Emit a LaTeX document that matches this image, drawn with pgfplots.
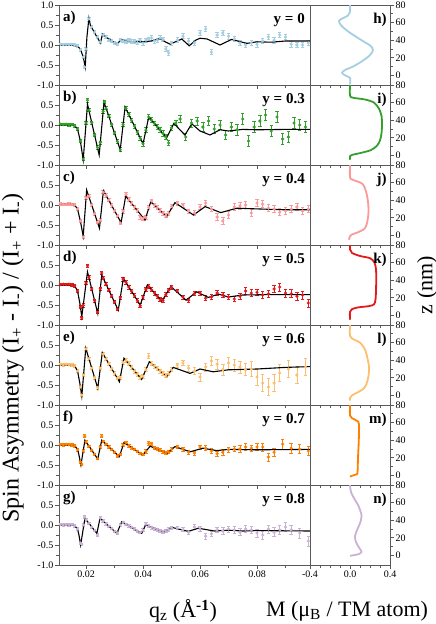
\documentclass[border=0pt]{standalone}
\usepackage{fontspec}
\setmainfont{Liberation Serif}
\usepackage{pgfplots}
\usepackage{pgfplotstable}
\pgfplotsset{compat=1.18}

\definecolor{cA}{HTML}{A6CEE3}
\definecolor{cB}{HTML}{33A02C}
\definecolor{cC}{HTML}{FB9A99}
\definecolor{cD}{HTML}{E31A1C}
\definecolor{cE}{HTML}{FDBF6F}
\definecolor{cF}{HTML}{FF7F00}
\definecolor{cG}{HTML}{CAB2D6}
\definecolor{frm}{gray}{0.35}

% ---------- spin asymmetry: data (q, SA, err) and fits (q, SA)
\pgfplotstableread{
0.011 0.02 0.03
0.012 0.01 0.03
0.013 0.02 0.03
0.014 0.01 0.03
0.015 0.02 0.03
0.016 0.00 0.03
0.017 -0.02 0.03
0.018 -0.12 0.03
0.019 -0.30 0.03
0.0195 -0.55 0.04
0.020 -0.10 0.04
0.021 0.65 0.05
0.022 0.45 0.04
0.023 0.32 0.04
0.024 0.20 0.04
0.025 0.08 0.04
0.026 0.25 0.04
0.027 0.20 0.04
0.028 0.12 0.04
0.029 0.10 0.04
0.030 0.05 0.04
0.031 0.03 0.04
0.032 0.13 0.04
0.033 0.10 0.04
0.034 0.08 0.05
0.035 0.11 0.05
0.036 0.08 0.05
0.037 0.10 0.05
0.038 0.06 0.05
0.039 0.12 0.05
0.040 0.05 0.05
0.041 0.12 0.05
0.042 0.15 0.05
0.043 0.18 0.06
0.044 0.10 0.05
0.045 0.12 0.05
0.046 0.18 0.05
0.047 0.14 0.05
0.048 -0.10 0.06
0.049 -0.20 0.06
0.050 0.05 0.05
0.052 0.12 0.06
0.054 0.22 0.06
0.056 0.10 0.06
0.058 0.05 0.07
0.060 0.30 0.07
0.062 0.40 0.07
0.064 -0.18 0.06
0.066 0.25 0.07
0.068 0.30 0.07
0.070 0.22 0.07
0.072 0.15 0.07
0.074 0.05 0.07
0.076 0.00 0.07
0.078 0.05 0.07
0.080 0.02 0.07
0.082 0.10 0.07
0.084 0.20 0.07
0.086 0.12 0.07
0.088 0.25 0.07
0.090 0.20 0.07
0.092 0.02 0.07
0.094 0.00 0.07
0.096 0.00 0.07
0.098 0.05 0.07
}\dA
\pgfplotstableread{
0.0105 0.00
0.015 0.00
0.017 -0.03
0.018 -0.10
0.019 -0.30
0.0197 -0.55
0.0203 0.20
0.021 0.67
0.0215 0.50
0.023 0.30
0.0245 0.12
0.025 0.05
0.0258 0.27
0.027 0.20
0.029 0.10
0.031 0.02
0.0322 0.14
0.034 0.10
0.037 0.08
0.040 0.08
0.043 0.10
0.046 0.16
0.048 0.07
0.0495 0.02
0.052 0.10
0.0536 0.15
0.0562 -0.02
0.0585 0.12
0.060 0.17
0.0625 0.15
0.064 0.10
0.067 0.00
0.0711 0.14
0.0764 0.04
0.080 0.08
0.085 0.07
0.090 0.10
0.0986 0.10
}\fA

\pgfplotstableread{
0.011 0.02 0.03
0.012 0.01 0.03
0.013 0.02 0.03
0.014 0.00 0.03
0.015 0.01 0.03
0.016 -0.02 0.03
0.017 -0.10 0.03
0.018 -0.40 0.03
0.019 -0.85 0.04
0.020 0.05 0.04
0.0205 0.62 0.05
0.021 0.37 0.04
0.022 0.06 0.04
0.023 -0.25 0.04
0.024 -0.56 0.04
0.025 -0.44 0.04
0.026 0.34 0.04
0.0265 0.58 0.04
0.027 0.42 0.04
0.028 0.22 0.04
0.029 0.01 0.04
0.030 -0.20 0.04
0.031 -0.41 0.04
0.032 -0.62 0.05
0.033 0.01 0.05
0.034 0.41 0.05
0.035 0.26 0.05
0.036 0.11 0.05
0.037 -0.03 0.05
0.038 -0.18 0.05
0.039 -0.33 0.05
0.040 -0.47 0.06
0.041 -0.13 0.06
0.042 0.20 0.06
0.043 0.12 0.06
0.044 0.04 0.06
0.045 -0.05 0.06
0.046 -0.13 0.06
0.047 -0.21 0.07
0.048 -0.30 0.07
0.049 -0.45 0.07
0.050 -0.07 0.07
0.0515 0.05 0.06
0.053 0.15 0.08
0.055 -0.30 0.08
0.057 0.05 0.10
0.059 0.10 0.10
0.061 -0.05 0.12
0.063 0.10 0.12
0.065 -0.10 0.12
0.067 0.00 0.12
0.069 -0.25 0.12
0.071 -0.05 0.12
0.073 -0.12 0.13
0.075 0.15 0.13
0.077 -0.40 0.13
0.079 -0.05 0.13
0.081 0.10 0.13
0.083 0.25 0.13
0.085 -0.15 0.13
0.087 0.20 0.13
0.089 -0.35 0.13
0.091 -0.30 0.13
0.093 0.05 0.13
0.095 0.00 0.13
0.097 -0.05 0.13
}\dB
\pgfplotstableread{
0.0105 0.00
0.015 0.00
0.016 -0.02
0.017 -0.10
0.018 -0.40
0.019 -0.875
0.0205 0.52
0.0246 -0.75
0.0263 0.57
0.032 -0.62
0.0337 0.45
0.0400 -0.47
0.0420 0.20
0.0483 -0.32
0.0508 0.04
0.0547 -0.25
0.0571 0.03
0.060 -0.15
0.0635 -0.25
0.067 -0.12
0.070 -0.15
0.075 -0.11
0.080 -0.12
0.090 -0.11
0.0986 -0.11
}\fB

\pgfplotstableread{
0.011 0.03 0.03
0.012 0.02 0.03
0.013 0.02 0.03
0.014 0.03 0.03
0.015 0.01 0.03
0.016 0.00 0.03
0.017 -0.10 0.03
0.018 -0.40 0.03
0.019 -0.80 0.04
0.020 0.18 0.04
0.021 0.22 0.04
0.022 0.00 0.04
0.023 -0.22 0.04
0.024 -0.43 0.04
0.025 -0.38 0.04
0.026 0.32 0.04
0.027 0.24 0.04
0.028 0.12 0.04
0.029 -0.01 0.04
0.030 -0.14 0.04
0.031 -0.27 0.04
0.032 -0.45 0.04
0.033 -0.15 0.05
0.034 0.26 0.05
0.035 0.13 0.05
0.036 0.04 0.05
0.037 -0.05 0.05
0.038 -0.14 0.05
0.039 -0.30 0.05
0.040 -0.33 0.05
0.041 -0.31 0.05
0.042 -0.06 0.05
0.043 0.10 0.05
0.044 0.00 0.05
0.045 -0.07 0.05
0.046 -0.14 0.05
0.047 -0.20 0.05
0.048 -0.27 0.05
0.049 -0.21 0.05
0.050 -0.04 0.05
0.052 0.05 0.05
0.054 0.00 0.05
0.056 -0.15 0.05
0.058 -0.20 0.06
0.060 -0.05 0.06
0.062 0.05 0.06
0.064 -0.10 0.07
0.066 -0.30 0.08
0.068 -0.40 0.08
0.070 -0.25 0.08
0.072 -0.05 0.08
0.074 -0.02 0.09
0.076 0.00 0.09
0.078 -0.20 0.09
0.080 0.05 0.09
0.082 0.02 0.09
0.084 -0.08 0.09
0.086 -0.10 0.09
0.088 -0.18 0.09
0.090 -0.15 0.09
0.092 -0.10 0.09
0.094 -0.05 0.09
0.096 -0.15 0.09
0.098 -0.10 0.09
}\dC
\pgfplotstableread{
0.0105 0.02
0.015 0.02
0.016 0.00
0.017 -0.10
0.018 -0.40
0.019 -0.78
0.0202 0.375
0.0247 -0.58
0.0261 0.36
0.0323 -0.44
0.0339 0.22
0.0407 -0.375
0.0427 0.08
0.0483 -0.29
0.0512 0.06
0.0577 -0.25
0.0618 -0.04
0.0673 -0.19
0.0729 -0.08
0.081 -0.10
0.090 -0.12
0.0986 -0.12
}\fC

\pgfplotstableread{
0.011 0.01 0.03
0.012 0.02 0.03
0.013 0.01 0.03
0.014 0.02 0.03
0.015 0.00 0.03
0.016 -0.02 0.03
0.017 -0.15 0.03
0.018 -0.55 0.03
0.0185 -0.82 0.04
0.019 -0.51 0.04
0.020 0.05 0.04
0.0205 0.48 0.04
0.021 0.19 0.04
0.022 -0.10 0.04
0.023 -0.39 0.04
0.024 -0.68 0.04
0.025 -0.09 0.04
0.0255 0.30 0.04
0.026 0.17 0.04
0.027 0.02 0.04
0.028 -0.13 0.04
0.029 -0.28 0.04
0.030 -0.43 0.04
0.031 -0.60 0.04
0.032 -0.32 0.04
0.033 0.15 0.05
0.034 0.07 0.05
0.035 -0.05 0.05
0.036 -0.16 0.05
0.037 -0.27 0.05
0.038 -0.39 0.05
0.039 -0.52 0.05
0.040 -0.30 0.05
0.041 -0.10 0.05
0.042 -0.04 0.05
0.043 -0.12 0.05
0.044 -0.20 0.05
0.045 -0.28 0.05
0.046 -0.37 0.05
0.047 -0.38 0.05
0.048 -0.24 0.05
0.049 -0.13 0.05
0.050 -0.06 0.05
0.052 -0.15 0.04
0.054 -0.30 0.05
0.056 -0.38 0.05
0.058 -0.22 0.05
0.060 -0.20 0.05
0.062 -0.33 0.06
0.064 -0.30 0.06
0.066 -0.20 0.07
0.068 -0.25 0.07
0.070 -0.30 0.07
0.072 -0.35 0.07
0.074 -0.28 0.08
0.076 -0.15 0.08
0.078 -0.20 0.08
0.080 -0.18 0.08
0.082 -0.25 0.08
0.084 -0.22 0.09
0.086 -0.10 0.09
0.088 -0.05 0.10
0.090 -0.20 0.10
0.092 -0.22 0.10
0.094 -0.28 0.10
0.096 -0.25 0.10
0.098 -0.45 0.10
}\dD
\pgfplotstableread{
0.0105 0.00
0.015 0.00
0.016 -0.02
0.017 -0.15
0.0178 -0.45
0.0185 -0.79
0.0205 0.33
0.0241 -0.71
0.0255 0.25
0.0313 -0.63
0.0331 0.17
0.0390 -0.50
0.0415 0.00
0.0466 -0.40
0.0498 -0.04
0.0551 -0.38
0.0588 -0.17
0.0629 -0.31
0.0665 -0.23
0.070 -0.30
0.075 -0.25
0.085 -0.24
0.0986 -0.24
}\fD

\pgfplotstableread{
0.011 0.02 0.03
0.012 0.00 0.03
0.013 0.02 0.03
0.014 0.01 0.03
0.015 0.00 0.03
0.016 -0.02 0.03
0.017 -0.15 0.03
0.018 -0.55 0.03
0.0185 -0.75 0.04
0.019 -0.25 0.04
0.020 0.40 0.04
0.021 0.16 0.04
0.022 -0.08 0.04
0.023 -0.32 0.04
0.024 -0.56 0.04
0.025 -0.08 0.04
0.026 0.27 0.04
0.027 0.15 0.04
0.028 0.03 0.04
0.029 -0.09 0.04
0.030 -0.21 0.04
0.031 -0.33 0.04
0.032 -0.31 0.04
0.033 0.06 0.05
0.034 0.11 0.05
0.035 0.03 0.05
0.036 -0.06 0.05
0.037 -0.15 0.05
0.038 -0.23 0.05
0.039 -0.32 0.05
0.040 -0.28 0.05
0.041 -0.12 0.05
0.042 0.22 0.06
0.043 0.03 0.05
0.044 -0.03 0.05
0.045 -0.09 0.05
0.046 -0.15 0.05
0.047 -0.21 0.05
0.048 -0.27 0.05
0.049 -0.22 0.05
0.050 -0.12 0.05
0.052 0.00 0.05
0.054 0.05 0.06
0.056 -0.08 0.07
0.058 -0.15 0.08
0.060 -0.30 0.10
0.062 -0.05 0.10
0.064 0.10 0.12
0.066 0.02 0.12
0.068 -0.12 0.13
0.070 0.05 0.15
0.072 0.00 0.15
0.074 -0.05 0.15
0.076 -0.12 0.15
0.078 -0.10 0.18
0.080 -0.30 0.20
0.082 -0.45 0.22
0.084 -0.55 0.22
0.086 -0.45 0.22
0.088 -0.20 0.22
0.091 -0.10 0.22
0.094 -0.25 0.22
0.097 -0.05 0.22
}\dE
\pgfplotstableread{
0.0105 0.00
0.015 0.00
0.016 -0.02
0.017 -0.15
0.0178 -0.45
0.0185 -0.78
0.0199 0.42
0.0241 -0.58
0.0257 0.31
0.0317 -0.42
0.0333 0.17
0.0395 -0.36
0.0422 0.08
0.0483 -0.29
0.0506 -0.06
0.0565 -0.21
0.060 -0.10
0.0646 -0.17
0.070 -0.12
0.080 -0.10
0.090 -0.06
0.0986 -0.04
}\fE

\pgfplotstableread{
0.011 0.01 0.03
0.012 0.00 0.03
0.013 0.02 0.03
0.014 0.01 0.03
0.015 0.00 0.03
0.016 -0.02 0.03
0.017 -0.12 0.03
0.018 -0.42 0.03
0.0185 -0.48 0.03
0.019 -0.15 0.03
0.0195 0.22 0.04
0.020 0.08 0.03
0.021 -0.03 0.03
0.022 -0.13 0.03
0.023 -0.23 0.03
0.024 -0.34 0.03
0.025 -0.05 0.03
0.0255 0.22 0.04
0.026 0.09 0.03
0.027 0.02 0.03
0.028 -0.05 0.03
0.029 -0.11 0.03
0.030 -0.18 0.03
0.031 -0.27 0.03
0.032 -0.23 0.03
0.033 0.00 0.03
0.034 0.06 0.03
0.035 -0.02 0.03
0.036 -0.07 0.03
0.037 -0.11 0.03
0.038 -0.16 0.03
0.039 -0.21 0.03
0.040 -0.24 0.03
0.041 -0.16 0.04
0.042 0.04 0.04
0.043 0.03 0.04
0.044 -0.07 0.04
0.045 -0.10 0.04
0.046 -0.13 0.04
0.047 -0.17 0.04
0.048 -0.20 0.04
0.049 -0.18 0.04
0.050 -0.11 0.04
0.052 -0.05 0.04
0.054 -0.10 0.05
0.056 -0.18 0.05
0.058 -0.20 0.05
0.060 -0.05 0.05
0.062 -0.08 0.06
0.064 -0.15 0.06
0.066 -0.22 0.06
0.068 -0.18 0.07
0.070 -0.12 0.07
0.072 -0.10 0.07
0.074 -0.10 0.08
0.076 -0.05 0.08
0.078 -0.08 0.08
0.080 -0.05 0.09
0.082 -0.05 0.10
0.084 -0.30 0.10
0.086 -0.18 0.10
0.089 0.02 0.12
0.092 -0.08 0.12
0.095 -0.10 0.12
0.098 -0.15 0.12
}\dF
\pgfplotstableread{
0.0105 0.00
0.015 0.00
0.016 -0.02
0.017 -0.10
0.0175 -0.25
0.0182 -0.50
0.0196 0.12
0.0241 -0.35
0.0255 0.12
0.0317 -0.29
0.0333 0.06
0.0399 -0.25
0.0425 -0.03
0.0485 -0.21
0.0512 -0.04
0.0565 -0.17
0.061 -0.08
0.0659 -0.14
0.070 -0.11
0.080 -0.12
0.0986 -0.11
}\fF

\pgfplotstableread{
0.011 0.01 0.03
0.012 0.00 0.03
0.013 0.01 0.03
0.014 0.00 0.03
0.015 0.01 0.03
0.016 -0.02 0.03
0.017 -0.10 0.03
0.018 -0.45 0.03
0.0185 -0.48 0.03
0.019 0.00 0.03
0.0195 0.20 0.03
0.020 0.13 0.03
0.021 0.04 0.03
0.022 -0.05 0.03
0.023 -0.14 0.03
0.024 -0.25 0.04
0.025 0.17 0.04
0.026 0.10 0.03
0.027 0.03 0.03
0.028 -0.03 0.03
0.029 -0.09 0.03
0.030 -0.16 0.03
0.031 -0.20 0.03
0.032 0.00 0.03
0.033 0.07 0.03
0.034 0.02 0.03
0.035 -0.02 0.03
0.036 -0.06 0.03
0.037 -0.10 0.03
0.038 -0.15 0.03
0.039 -0.19 0.03
0.040 -0.13 0.04
0.041 0.02 0.04
0.042 -0.03 0.04
0.043 -0.06 0.04
0.044 -0.09 0.04
0.045 -0.12 0.04
0.046 -0.15 0.04
0.047 -0.18 0.04
0.048 -0.15 0.04
0.049 -0.11 0.04
0.050 -0.07 0.04
0.052 -0.08 0.04
0.054 -0.12 0.05
0.056 -0.18 0.05
0.058 -0.05 0.06
0.060 -0.10 0.06
0.062 -0.28 0.07
0.064 -0.22 0.07
0.066 -0.12 0.07
0.068 -0.15 0.08
0.070 -0.10 0.08
0.072 -0.12 0.08
0.074 -0.18 0.09
0.076 -0.10 0.09
0.078 -0.12 0.09
0.080 -0.20 0.10
0.082 -0.25 0.10
0.084 -0.10 0.10
0.086 -0.18 0.11
0.088 -0.12 0.11
0.090 -0.05 0.12
0.092 -0.12 0.12
0.095 -0.20 0.12
0.098 -0.40 0.12
}\dG
\pgfplotstableread{
0.0105 0.00
0.015 0.00
0.016 -0.02
0.017 -0.10
0.0175 -0.25
0.0181 -0.50
0.0196 0.17
0.0238 -0.21
0.0249 0.17
0.0308 -0.21
0.0325 0.08
0.0395 -0.21
0.0409 0.00
0.0471 -0.18
0.0501 -0.06
0.0559 -0.16
0.0594 -0.08
0.065 -0.15
0.070 -0.13
0.075 -0.15
0.080 -0.14
0.0986 -0.15
}\fG

% ---------- magnetisation profiles (M, z)
\pgfplotstableread{
0.00 80
0.00 72
-0.02 68
-0.07 65
-0.11 62
-0.09 57
-0.02 50
0.10 41
0.20 34
0.23 29
0.20 23
0.12 16
0.03 10
-0.05 6
-0.08 3
-0.05 0
0.00 -3
0.00 -10
}\pA
\pgfplotstableread{
0.00 80
0.00 68
0.03 65.5
0.15 63.5
0.24 60
0.29 53
0.315 45
0.32 35
0.315 25
0.30 17
0.27 11
0.21 6
0.10 2.5
0.02 0.5
0.00 -1
0.00 -5
}\pB
\pgfplotstableread{
0.00 80
0.00 66
0.02 63.5
0.08 61
0.13 58
0.16 50
0.178 40
0.185 30
0.18 20
0.165 12
0.14 7
0.08 3.5
0.02 1
0.00 -1
-0.01 -5
}\pC
\pgfplotstableread{
0.00 80
0.00 75
0.02 71
0.10 67.5
0.20 65
0.245 60
0.26 52
0.262 40
0.26 28
0.255 18
0.24 12.5
0.19 10.5
0.08 9
0.02 7
0.00 4
0.00 -5
}\pD
\pgfplotstableread{
0.00 80
0.00 68
0.03 64
0.10 60
0.15 52
0.175 42
0.19 32
0.185 22
0.165 13
0.13 7
0.07 3
0.02 0
0.00 -3
0.00 -6
}\pE
\pgfplotstableread{
0.00 80
0.00 68
0.02 65
0.07 62
0.09 58
0.088 40
0.08 20
0.075 3
0.06 1
0.02 -0.5
0.00 -1.5
}\pF
\pgfplotstableread{
0.00 80
0.01 72
0.04 65
0.085 56
0.115 46
0.105 38
0.075 30
0.05 22
0.06 15
0.095 8
0.115 4
0.09 1.5
0.03 0
0.00 -0.5
}\pG

\pgfplotsset{
  base/.style={scale only axis, height=80pt,
    axis line style={frm, line width=0.7pt},
    tick style={frm, line width=0.6pt},
    tick align=outside, major tick length=4pt, minor tick length=3pt,
    scaled x ticks=false, scaled y ticks=false,
    ticklabel style={font=\fontsize{10}{12}\selectfont, inner sep=1.5pt},
    /pgf/number format/assume math mode=true},
  spin/.style={base, width=251pt,
    xmin=0.0105, xmax=0.0986, ymin=-1, ymax=1,
    xtick={0.02,0.04,0.06,0.08}, minor xtick={0.03,0.05,0.07,0.09},
    xtick pos=bottom, ytick pos=left,
    ytick={-1,-0.5,0,0.5}, minor ytick={-0.75,-0.25,0.25,0.75},
    yticklabel style={/pgf/number format/fixed, /pgf/number format/fixed zerofill,
      /pgf/number format/precision=1}},
  prof/.style={base, width=80pt,
    xmin=-0.4, xmax=0.4, ymin=-11, ymax=80,
    xtick={-0.4,0,0.4}, minor xtick={-0.3,-0.2,-0.1,0.1,0.2,0.3},
    xtick pos=bottom, ytick pos=right, yticklabel pos=right,
    ytick={0,20,40,60,80}, minor ytick={10,30,50,70}},
  nox/.style={xticklabels={}},
}
\newcommand{\lab}{\fontsize{15}{18}\selectfont\bfseries}
\newcommand{\spinplots}[3]{%
  \addplot[only marks, mark=*, mark size=1.4pt, color=#3,
    error bars/.cd, y dir=both, y explicit,
    error bar style={line width=0.6pt, color=#3},
    error mark options={rotate=90, mark size=1.7pt, line width=0.6pt, color=#3}]
    table[x index=0, y index=1, y error index=2] {#1};
  \addplot[black, line width=1.1pt] table[x index=0, y index=1] {#2};
}

\begin{document}
\begin{tikzpicture}[x=1pt, y=1pt]
\useasboundingbox (0,0) rectangle (436,624);

% left column
\begin{axis}[spin, nox, at={(59pt,539pt)}, anchor=south west, ytick={-1,-0.5,0,0.5,1}]
  \spinplots{\dA}{\fA}{cA}
  \node[anchor=north west, inner sep=0, font=\lab] at (rel axis cs:0.016,0.925) {a)};
  \node[anchor=north east, inner sep=0, font=\lab] at (rel axis cs:0.98,0.9) {y = 0};
\end{axis}
\begin{axis}[spin, nox, at={(59pt,459pt)}, anchor=south west]
  \spinplots{\dB}{\fB}{cB}
  \node[anchor=north west, inner sep=0, font=\lab] at (rel axis cs:0.016,0.925) {b)};
  \node[anchor=north east, inner sep=0, font=\lab] at (rel axis cs:0.98,0.9) {y = 0.3};
\end{axis}
\begin{axis}[spin, nox, at={(59pt,379pt)}, anchor=south west]
  \spinplots{\dC}{\fC}{cC}
  \node[anchor=north west, inner sep=0, font=\lab] at (rel axis cs:0.016,0.925) {c)};
  \node[anchor=north east, inner sep=0, font=\lab] at (rel axis cs:0.98,0.9) {y = 0.4};
\end{axis}
\begin{axis}[spin, nox, at={(59pt,299pt)}, anchor=south west]
  \spinplots{\dD}{\fD}{cD}
  \node[anchor=north west, inner sep=0, font=\lab] at (rel axis cs:0.016,0.925) {d)};
  \node[anchor=north east, inner sep=0, font=\lab] at (rel axis cs:0.98,0.9) {y = 0.5};
\end{axis}
\begin{axis}[spin, nox, at={(59pt,219pt)}, anchor=south west]
  \spinplots{\dE}{\fE}{cE}
  \node[anchor=north west, inner sep=0, font=\lab] at (rel axis cs:0.016,0.925) {e)};
  \node[anchor=north east, inner sep=0, font=\lab] at (rel axis cs:0.98,0.9) {y = 0.6};
\end{axis}
\begin{axis}[spin, nox, at={(59pt,139pt)}, anchor=south west]
  \spinplots{\dF}{\fF}{cF}
  \node[anchor=north west, inner sep=0, font=\lab] at (rel axis cs:0.016,0.925) {f)};
  \node[anchor=north east, inner sep=0, font=\lab] at (rel axis cs:0.98,0.9) {y = 0.7};
\end{axis}
\begin{axis}[spin, at={(59pt,59pt)}, anchor=south west,
    xticklabel style={/pgf/number format/fixed, /pgf/number format/fixed zerofill,
      /pgf/number format/precision=2}]
  \spinplots{\dG}{\fG}{cG}
  \node[anchor=north west, inner sep=0, font=\lab] at (rel axis cs:0.016,0.925) {g)};
  \node[anchor=north east, inner sep=0, font=\lab] at (rel axis cs:0.98,0.9) {y = 0.8};
\end{axis}

% right column
\begin{axis}[prof, nox, at={(310pt,539pt)}, anchor=south west]
  \addplot[cA, line width=1.8pt, smooth] table[x index=0, y index=1] {\pA};
  \node[anchor=north east, inner sep=0, font=\lab] at (rel axis cs:0.96,0.9) {h)};
\end{axis}
\begin{axis}[prof, nox, at={(310pt,459pt)}, anchor=south west]
  \addplot[cB, line width=1.8pt, smooth] table[x index=0, y index=1] {\pB};
  \node[anchor=north east, inner sep=0, font=\lab] at (rel axis cs:0.96,0.9) {i)};
\end{axis}
\begin{axis}[prof, nox, at={(310pt,379pt)}, anchor=south west]
  \addplot[cC, line width=1.8pt, smooth] table[x index=0, y index=1] {\pC};
  \node[anchor=north east, inner sep=0, font=\lab] at (rel axis cs:0.96,0.9) {j)};
\end{axis}
\begin{axis}[prof, nox, at={(310pt,299pt)}, anchor=south west]
  \addplot[cD, line width=1.8pt, smooth] table[x index=0, y index=1] {\pD};
  \node[anchor=north east, inner sep=0, font=\lab] at (rel axis cs:0.96,0.9) {k)};
\end{axis}
\begin{axis}[prof, nox, at={(310pt,219pt)}, anchor=south west]
  \addplot[cE, line width=1.8pt, smooth] table[x index=0, y index=1] {\pE};
  \node[anchor=north east, inner sep=0, font=\lab] at (rel axis cs:0.96,0.9) {l)};
\end{axis}
\begin{axis}[prof, nox, at={(310pt,139pt)}, anchor=south west]
  \addplot[cF, line width=1.8pt, smooth] table[x index=0, y index=1] {\pF};
  \node[anchor=north east, inner sep=0, font=\lab] at (rel axis cs:0.96,0.9) {m)};
\end{axis}
\begin{axis}[prof, at={(310pt,59pt)}, anchor=south west,
    xticklabel style={/pgf/number format/fixed, /pgf/number format/fixed zerofill,
      /pgf/number format/precision=1}]
  \addplot[cG, line width=1.8pt, smooth] table[x index=0, y index=1] {\pG};
  \node[anchor=north east, inner sep=0, font=\lab] at (rel axis cs:0.96,0.9) {n)};
\end{axis}

% axis titles
\node[rotate=90, font=\fontsize{24}{28}\selectfont] at (13,266)
  {Spin Asymmetry (I\textsubscript{+} - I\textsubscript{-}) / (I\textsubscript{+} + I\textsubscript{-})};
\node[font=\fontsize{22}{26}\selectfont] at (183,13) {q\textsubscript{z} (Å\textsuperscript{\textbf{-1}})};
\node[font=\fontsize{22}{26}\selectfont] at (347,13) {M (μ\textsubscript{B} / TM atom)};
\node[rotate=90, font=\fontsize{22}{26}\selectfont] at (427,339) {z (nm)};
\end{tikzpicture}
\end{document}
